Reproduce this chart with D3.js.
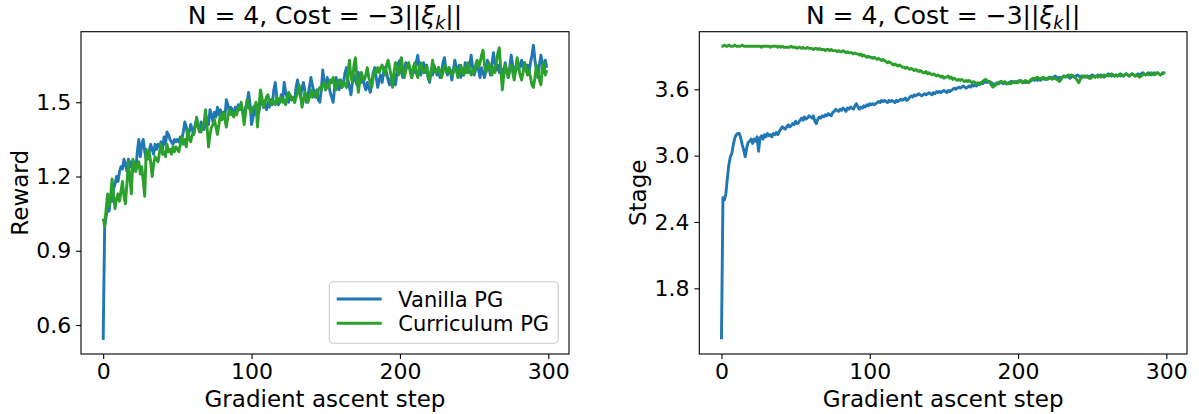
<!DOCTYPE html>
<html>
<head>
<meta charset="utf-8">
<script src="https://d3js.org/d3.v7.min.js"></script>
<style>
  body { margin: 0; background: #fff; }
  svg text { font-family: "DejaVu Sans", sans-serif; fill: #000; }
</style>
</head>
<body>
<svg width="1199" height="414"></svg>
<script>

// ---- data ----
var steps = d3.range(0, 300);
var xTicks = [0, 100, 200, 300];
var rewardTicks = [0.6, 0.9, 1.2, 1.5];
var stageTicks = [1.8, 2.4, 3.0, 3.6];
var seriesNames = ["Vanilla PG", "Curriculum PG"];

var rewardVanilla = [
  0.54,1.00,1.04,1.08,1.06,1.12,1.10,1.15,1.17,1.20,1.18,1.22,1.24,1.23,1.27,1.25,1.22,1.27,1.24,1.26,
  1.22,1.25,1.23,1.30,1.35,1.28,1.33,1.35,1.30,1.27,1.29,1.30,1.33,1.31,1.29,1.33,1.31,1.33,1.32,1.34,
  1.31,1.36,1.33,1.38,1.37,1.35,1.34,1.33,1.35,1.34,1.35,1.34,1.36,1.35,1.38,1.42,1.40,1.36,1.38,1.41,
  1.39,1.37,1.41,1.43,1.40,1.38,1.42,1.40,1.39,1.42,1.44,1.41,1.47,1.45,1.42,1.46,1.44,1.48,1.45,1.47,
  1.43,1.46,1.44,1.51,1.49,1.46,1.48,1.47,1.45,1.48,1.46,1.49,1.47,1.48,1.46,1.44,1.48,1.50,1.54,1.49,
  1.41,1.44,1.47,1.45,1.49,1.46,1.52,1.50,1.48,1.49,1.47,1.50,1.48,1.51,1.49,1.55,1.58,1.52,1.49,1.50,
  1.53,1.51,1.58,1.54,1.52,1.50,1.53,1.51,1.52,1.50,1.56,1.59,1.55,1.52,1.56,1.58,1.54,1.50,1.53,1.56,
  1.60,1.57,1.54,1.52,1.55,1.51,1.50,1.55,1.63,1.58,1.55,1.60,1.57,1.54,1.52,1.50,1.56,1.60,1.57,1.55,
  1.59,1.56,1.58,1.62,1.64,1.59,1.56,1.53,1.58,1.61,1.59,1.57,1.62,1.60,1.58,1.60,1.57,1.55,1.58,1.56,
  1.54,1.58,1.62,1.64,1.60,1.56,1.59,1.61,1.58,1.62,1.64,1.62,1.59,1.57,1.60,1.58,1.61,1.57,1.62,1.66,
  1.67,1.62,1.60,1.63,1.66,1.64,1.65,1.63,1.60,1.64,1.62,1.66,1.69,1.64,1.61,1.63,1.66,1.62,1.65,1.60,
  1.58,1.63,1.61,1.65,1.63,1.61,1.64,1.60,1.62,1.66,1.68,1.63,1.61,1.64,1.62,1.59,1.63,1.67,1.64,1.62,
  1.65,1.60,1.63,1.61,1.66,1.64,1.62,1.65,1.69,1.64,1.61,1.63,1.66,1.63,1.60,1.64,1.62,1.60,1.63,1.67,
  1.64,1.61,1.65,1.70,1.66,1.63,1.65,1.62,1.64,1.61,1.63,1.66,1.62,1.60,1.64,1.69,1.65,1.61,1.64,1.66,
  1.63,1.65,1.67,1.64,1.66,1.63,1.65,1.62,1.66,1.69,1.73,1.67,1.63,1.60,1.65,1.69,1.66,1.62,1.67,1.64
];

var rewardCurriculum = [
  1.03,1.00,1.07,1.13,1.08,1.12,1.19,1.12,1.07,1.11,1.13,1.10,1.14,1.18,1.12,1.09,1.17,1.26,1.19,1.13,
  1.27,1.25,1.22,1.25,1.26,1.21,1.24,1.18,1.12,1.31,1.27,1.30,1.26,1.20,1.25,1.28,1.27,1.26,1.30,1.33,
  1.29,1.30,1.28,1.33,1.30,1.31,1.29,1.32,1.30,1.32,1.31,1.30,1.33,1.36,1.33,1.35,1.32,1.39,1.35,1.34,
  1.37,1.37,1.40,1.44,1.40,1.39,1.38,1.40,1.42,1.47,1.40,1.32,1.37,1.40,1.41,1.43,1.40,1.37,1.41,1.45,
  1.43,1.46,1.43,1.40,1.44,1.47,1.45,1.46,1.44,1.46,1.45,1.48,1.47,1.50,1.46,1.41,1.46,1.51,1.48,1.47,
  1.46,1.48,1.48,1.50,1.40,1.48,1.55,1.52,1.48,1.50,1.52,1.53,1.50,1.49,1.51,1.50,1.49,1.52,1.51,1.50,
  1.52,1.50,1.51,1.49,1.52,1.54,1.52,1.51,1.52,1.50,1.52,1.54,1.57,1.53,1.48,1.51,1.54,1.52,1.50,1.52,
  1.55,1.52,1.53,1.54,1.52,1.55,1.56,1.55,1.57,1.58,1.55,1.57,1.56,1.59,1.58,1.60,1.56,1.55,1.58,1.59,
  1.58,1.56,1.58,1.57,1.56,1.62,1.67,1.60,1.58,1.65,1.68,1.60,1.54,1.59,1.62,1.60,1.59,1.61,1.64,1.60,
  1.58,1.56,1.60,1.63,1.62,1.64,1.62,1.64,1.65,1.63,1.61,1.65,1.67,1.64,1.61,1.56,1.62,1.66,1.64,1.61,
  1.64,1.68,1.63,1.60,1.63,1.65,1.66,1.62,1.60,1.64,1.66,1.62,1.60,1.64,1.66,1.63,1.62,1.63,1.65,1.60,
  1.59,1.62,1.67,1.63,1.62,1.63,1.64,1.62,1.60,1.62,1.65,1.63,1.62,1.64,1.63,1.61,1.62,1.64,1.63,1.60,
  1.62,1.65,1.63,1.61,1.64,1.62,1.66,1.63,1.61,1.63,1.62,1.65,1.67,1.64,1.66,1.69,1.71,1.65,1.62,1.64,
  1.66,1.63,1.61,1.64,1.62,1.66,1.70,1.72,1.63,1.55,1.61,1.65,1.63,1.60,1.63,1.65,1.62,1.59,1.63,1.68,
  1.64,1.61,1.59,1.62,1.66,1.63,1.61,1.63,1.60,1.57,1.56,1.60,1.65,1.62,1.59,1.57,1.64,1.66,1.61,1.63
];

var stageVanilla = [
  1.34,2.62,2.60,2.66,2.80,2.92,2.99,3.02,3.10,3.16,3.19,3.20,3.20,3.16,3.10,3.05,2.99,3.07,3.12,3.13,
  3.15,3.11,3.15,3.13,3.17,3.04,3.16,3.18,3.15,3.19,3.17,3.20,3.18,3.19,3.17,3.20,3.19,3.21,3.19,3.22,
  3.24,3.26,3.25,3.24,3.26,3.28,3.26,3.27,3.29,3.28,3.31,3.29,3.30,3.32,3.34,3.32,3.35,3.33,3.34,3.36,
  3.35,3.34,3.36,3.31,3.29,3.33,3.35,3.34,3.36,3.35,3.37,3.36,3.38,3.37,3.36,3.39,3.40,3.42,3.41,3.40,
  3.42,3.41,3.43,3.42,3.40,3.43,3.42,3.44,3.43,3.42,3.45,3.47,3.44,3.42,3.44,3.43,3.45,3.44,3.46,3.45,
  3.47,3.46,3.47,3.46,3.47,3.48,3.49,3.48,3.50,3.49,3.50,3.49,3.48,3.50,3.49,3.50,3.49,3.48,3.50,3.49,
  3.50,3.51,3.50,3.51,3.52,3.50,3.51,3.53,3.54,3.53,3.55,3.54,3.55,3.56,3.55,3.54,3.55,3.56,3.55,3.56,
  3.57,3.56,3.55,3.57,3.56,3.58,3.57,3.58,3.57,3.58,3.59,3.58,3.57,3.59,3.58,3.59,3.60,3.61,3.60,3.61,
  3.62,3.61,3.62,3.63,3.62,3.61,3.62,3.63,3.62,3.64,3.63,3.64,3.63,3.65,3.64,3.66,3.65,3.66,3.67,3.66,
  3.67,3.67,3.66,3.65,3.64,3.65,3.66,3.65,3.66,3.66,3.65,3.66,3.65,3.65,3.66,3.67,3.67,3.66,3.67,3.66,
  3.67,3.68,3.67,3.66,3.67,3.66,3.67,3.66,3.67,3.68,3.69,3.68,3.69,3.68,3.69,3.68,3.69,3.70,3.69,3.70,
  3.69,3.70,3.71,3.70,3.71,3.72,3.71,3.70,3.71,3.70,3.71,3.72,3.71,3.72,3.71,3.70,3.71,3.72,3.71,3.72,
  3.73,3.72,3.71,3.72,3.71,3.72,3.71,3.72,3.71,3.72,3.73,3.72,3.71,3.72,3.73,3.72,3.73,3.72,3.71,3.72,
  3.73,3.74,3.73,3.72,3.73,3.72,3.73,3.72,3.73,3.74,3.73,3.72,3.73,3.74,3.73,3.72,3.73,3.74,3.73,3.72,
  3.73,3.74,3.73,3.74,3.75,3.74,3.73,3.74,3.75,3.74,3.73,3.74,3.75,3.74,3.75,3.74,3.73,3.74,3.75,3.74
];

var stageCurriculum = [
  3.99,3.99,4.00,3.99,3.99,4.00,3.99,3.99,3.99,4.00,3.99,3.99,3.99,3.99,4.00,3.99,3.99,3.99,3.99,3.99,
  3.99,3.99,3.99,3.99,3.99,3.99,3.99,3.98,3.99,3.99,3.99,3.99,3.99,3.98,3.99,3.99,3.99,3.99,3.98,3.99,
  3.98,3.99,3.98,3.98,3.98,3.98,3.98,3.99,3.98,3.98,3.98,3.97,3.98,3.98,3.97,3.98,3.97,3.97,3.98,3.97,
  3.97,3.97,3.96,3.97,3.97,3.96,3.97,3.96,3.96,3.96,3.95,3.96,3.96,3.95,3.96,3.95,3.95,3.95,3.94,3.95,
  3.94,3.94,3.95,3.94,3.93,3.94,3.93,3.93,3.93,3.92,3.93,3.92,3.92,3.91,3.92,3.90,3.91,3.90,3.89,3.90,
  3.89,3.89,3.88,3.89,3.88,3.87,3.88,3.87,3.86,3.87,3.86,3.85,3.84,3.85,3.84,3.83,3.82,3.83,3.82,3.81,
  3.82,3.81,3.80,3.80,3.79,3.80,3.79,3.78,3.79,3.78,3.77,3.78,3.77,3.76,3.77,3.76,3.75,3.75,3.76,3.74,
  3.75,3.74,3.73,3.74,3.73,3.72,3.73,3.72,3.71,3.72,3.70,3.71,3.71,3.72,3.70,3.71,3.69,3.70,3.69,3.68,
  3.69,3.68,3.69,3.68,3.67,3.68,3.67,3.68,3.67,3.66,3.67,3.66,3.65,3.66,3.65,3.66,3.67,3.68,3.69,3.68,
  3.67,3.66,3.64,3.62,3.63,3.64,3.65,3.66,3.67,3.67,3.66,3.67,3.66,3.65,3.66,3.65,3.66,3.67,3.66,3.67,
  3.66,3.67,3.68,3.66,3.67,3.68,3.67,3.66,3.68,3.69,3.70,3.69,3.70,3.71,3.70,3.69,3.70,3.71,3.70,3.69,
  3.70,3.71,3.70,3.69,3.70,3.70,3.69,3.68,3.67,3.69,3.71,3.72,3.71,3.72,3.73,3.72,3.73,3.72,3.71,3.70,
  3.68,3.66,3.69,3.71,3.72,3.71,3.72,3.71,3.70,3.70,3.71,3.72,3.71,3.72,3.71,3.72,3.71,3.72,3.73,3.72,
  3.73,3.72,3.73,3.74,3.73,3.72,3.73,3.72,3.73,3.72,3.73,3.72,3.73,3.74,3.73,3.72,3.73,3.74,3.73,3.72,
  3.73,3.72,3.71,3.72,3.73,3.74,3.73,3.74,3.73,3.74,3.75,3.74,3.73,3.74,3.75,3.74,3.73,3.74,3.75,3.74
];

// ---- layout ----
var svg = d3.select("svg");
var colors = ["#1f77b4", "#2ca02c"];
var plotTop = 31.7, plotBottom = 354;
var tickLen = 4.9, tickPad = 4.9;
var tickFont = 22, labelFont = 23, titleFont = 25, legendFont = 21;
var lineW = 2.9;

var panels = [
  { left: 81, right: 569, domain: [0.483, 1.785], ticks: rewardTicks,
    data: [rewardVanilla, rewardCurriculum], ylabel: "Reward", legend: true },
  { left: 699.3, right: 1187, domain: [1.206, 4.121], ticks: stageTicks,
    data: [stageVanilla, stageCurriculum], ylabel: "Stage", legend: false }
];

panels.forEach(function(p) {
  var g = svg.append("g");

  var x = d3.scaleLinear().domain([-14.95, 313.95]).range([p.left, p.right]);
  var y = d3.scaleLinear().domain(p.domain).range([plotBottom, plotTop]);

  // lines
  p.data.forEach(function(vals, k) {
    var line = d3.line()
        .x(function(d, i) { return x(steps[i]); })
        .y(function(d) { return y(d); });
    g.append("path")
        .datum(vals)
        .attr("d", line)
        .attr("fill", "none")
        .attr("stroke", colors[k])
        .attr("stroke-width", lineW)
        .attr("stroke-linejoin", "round");
  });

  // frame
  g.append("rect")
      .attr("x", p.left).attr("y", plotTop)
      .attr("width", p.right - p.left).attr("height", plotBottom - plotTop)
      .attr("fill", "none").attr("stroke", "#000").attr("stroke-width", 1.1);

  // x axis
  var xa = g.append("g")
      .attr("transform", "translate(0," + plotBottom + ")")
      .call(d3.axisBottom(x).tickValues(xTicks).tickSize(tickLen).tickPadding(tickPad).tickFormat(d3.format("d")));
  // y axis
  var ya = g.append("g")
      .attr("transform", "translate(" + p.left + ",0)")
      .call(d3.axisLeft(y).tickValues(p.ticks).tickSize(tickLen).tickPadding(tickPad).tickFormat(d3.format(".1f")));

  [xa, ya].forEach(function(a) {
    a.select(".domain").remove();
    a.attr("font-family", "DejaVu Sans").attr("font-size", tickFont);
    a.selectAll(".tick line").attr("stroke", "#000").attr("stroke-width", 1.1);
    a.selectAll(".tick text").attr("fill", "#000");
  });

  var cx = (p.left + p.right) / 2;

  // x label
  g.append("text")
      .attr("x", cx).attr("y", 406.5)
      .attr("text-anchor", "middle")
      .attr("font-size", labelFont)
      .text("Gradient ascent step");

  // y label
  g.append("text")
      .attr("transform", "translate(" + (p.left - 53) + "," + ((plotTop + plotBottom) / 2) + ") rotate(-90)")
      .attr("text-anchor", "middle")
      .attr("font-size", labelFont)
      .text(p.ylabel);

  // title (mathtext style)
  var t = g.append("text")
      .attr("x", cx).attr("y", 24)
      .attr("text-anchor", "middle")
      .attr("font-size", titleFont);
  t.append("tspan").text("N = 4, Cost = \u22123||");
  t.append("tspan").attr("font-style", "italic").text("\u03be");
  t.append("tspan").attr("font-style", "italic").attr("font-size", titleFont * 0.7).attr("dy", 5).text("k");
  t.append("tspan").attr("dy", -5).text("||");

  // legend
  if (p.legend) {
    var lg = g.append("g");
    lg.append("rect")
        .attr("x", 329.3).attr("y", 281.7)
        .attr("width", 229).attr("height", 61.6)
        .attr("rx", 4)
        .attr("fill", "#fff").attr("fill-opacity", 0.8)
        .attr("stroke", "#cccccc").attr("stroke-width", 1.1);
    seriesNames.forEach(function(name, k) {
      var ry = 299 + k * 24.3;
      lg.append("line")
          .attr("x1", 336.7).attr("x2", 381.7)
          .attr("y1", ry).attr("y2", ry)
          .attr("stroke", colors[k]).attr("stroke-width", lineW);
      lg.append("text")
          .attr("x", 398.3).attr("y", ry + legendFont * 0.36)
          .attr("font-size", legendFont)
          .text(name);
    });
  }
});

</script>
</body>
</html>
